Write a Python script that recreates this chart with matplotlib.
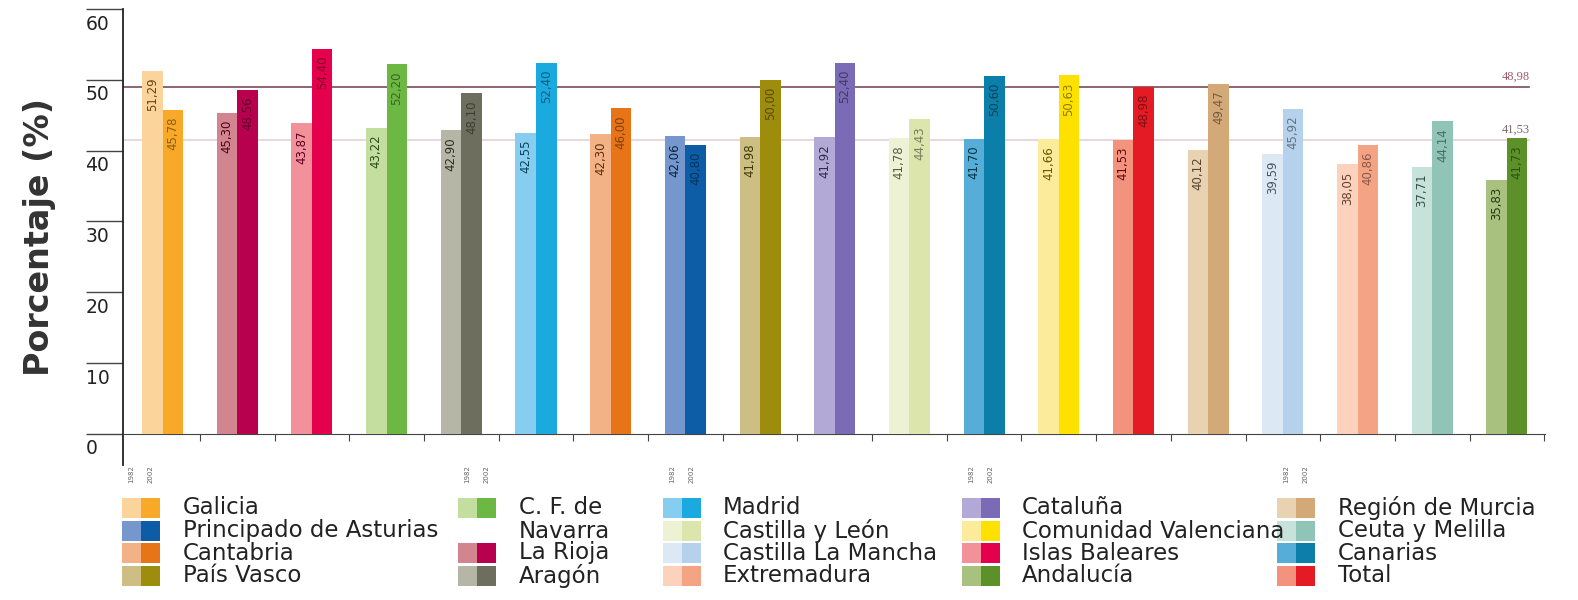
import numpy as np
import matplotlib
matplotlib.use('Agg')
import matplotlib.pyplot as plt
from matplotlib.patches import Rectangle
from matplotlib.colors import to_rgb
from matplotlib.transforms import ScaledTranslation

# datos (orden de las barras en el grafico)
regiones = ['Galicia', 'La Rioja', 'Islas Baleares', 'C. F. de Navarra', 'Aragón',
            'Madrid', 'Cantabria', 'Principado de Asturias', 'País Vasco', 'Cataluña',
            'Castilla y León', 'Canarias', 'Comunidad Valenciana', 'Total',
            'Región de Murcia', 'Castilla La Mancha', 'Extremadura', 'Ceuta y Melilla',
            'Andalucía']
v1982 = [51.29, 45.30, 43.87, 43.22, 42.90, 42.55, 42.30, 42.06, 41.98, 41.92,
         41.78, 41.70, 41.66, 41.53, 40.12, 39.59, 38.05, 37.71, 35.83]
v2002 = [45.78, 48.56, 54.40, 52.20, 48.10, 52.40, 46.00, 40.80, 50.00, 52.40,
         44.43, 50.60, 50.63, 48.98, 49.47, 45.92, 40.86, 44.14, 41.73]
anios = ['1982', '2002']

# colores (claro = 1982, oscuro = 2002)
colores = {
    'Galicia': ('#FBD49C', '#F8A928'),
    'La Rioja': ('#D3858F', '#B7004E'),
    'Islas Baleares': ('#F2919A', '#E4004C'),
    'C. F. de Navarra': ('#C4DEA0', '#6DB843'),
    'Aragón': ('#B6B6A7', '#6E6E5E'),
    'Madrid': ('#86CDF0', '#1AAAE0'),
    'Cantabria': ('#F3B286', '#E87418'),
    'Principado de Asturias': ('#7597CD', '#0C5DA6'),
    'País Vasco': ('#CDBE83', '#9E8C0D'),
    'Cataluña': ('#B3A9D6', '#7B6AB6'),
    'Castilla y León': ('#EDF2D4', '#DCE5AC'),
    'Canarias': ('#56AED8', '#0B7EA9'),
    'Comunidad Valenciana': ('#FBEB9B', '#FFE100'),
    'Total': ('#F4937D', '#E41B25'),
    'Región de Murcia': ('#E8D2B2', '#D3A978'),
    'Castilla La Mancha': ('#DCE8F3', '#B5D1EC'),
    'Extremadura': ('#FCD2BC', '#F5A385'),
    'Ceuta y Melilla': ('#C6E2DA', '#8FC4B6'),
    'Andalucía': ('#A9C17F', '#5B9128'),
}

# columnas de la leyenda
leyenda = [
    ['Galicia', 'Principado de Asturias', 'Cantabria', 'País Vasco'],
    ['C. F. de Navarra', None, 'La Rioja', 'Aragón'],
    ['Madrid', 'Castilla y León', 'Castilla La Mancha', 'Extremadura'],
    ['Cataluña', 'Comunidad Valenciana', 'Islas Baleares', 'Andalucía'],
    ['Región de Murcia', 'Ceuta y Melilla', 'Canarias', 'Total'],
]

W, H = 1578, 600
fig = plt.figure(figsize=(W / 100, H / 100), dpi=100)
ax = fig.add_axes([123 / W, 1 - 465 / H, (1545 - 123) / W, (465 - 9) / H])

x = np.arange(len(regiones))
w = 0.275
claro = [colores[r][0] for r in regiones]
oscuro = [colores[r][1] for r in regiones]
b1 = ax.bar(x - w / 2, v1982, w, color=claro, zorder=3)
b2 = ax.bar(x + w / 2, v2002, w, color=oscuro, zorder=3)


def oscurecer(c, f):
    r, g, b = to_rgb(c)
    return (r * f, g * f, b * f)


for bars, vals, cols, f in [(b1, v1982, oscuro, 0.4), (b2, v2002, oscuro, 0.55)]:
    for bar, v, c in zip(bars, vals, cols):
        ax.annotate(f'{v:.2f}'.replace('.', ','),
                    (bar.get_x() + bar.get_width() / 2, v),
                    xytext=(0, -5), textcoords='offset points',
                    rotation=90, ha='center', va='top', fontsize=8.5,
                    color=oscurecer(c, f), zorder=4)

# lineas de la media total
i_total = regiones.index('Total')
ax.axhline(v2002[i_total], xmin=0, xmax=0.989, color='#7a4a55', lw=1.2, zorder=2)
ax.axhline(v1982[i_total], xmin=0, xmax=0.989, color='#e6d2d6', lw=1.2, zorder=2)
ax.annotate(f'{v2002[i_total]:.2f}'.replace('.', ','), (18.31, v2002[i_total]),
            xytext=(0, 3), textcoords='offset points', ha='right', va='bottom',
            fontsize=9, family='Liberation Serif', color='#a0596a')
ax.annotate(f'{v1982[i_total]:.2f}'.replace('.', ','), (18.31, v1982[i_total]),
            xytext=(0, 3), textcoords='offset points', ha='right', va='bottom',
            fontsize=9, family='Liberation Serif', color='#7a6a6a')

ax.set_xlim(-0.53, 18.51)
ax.set_ylim(-4.4, 60)
ax.spines['top'].set_visible(False)
ax.spines['right'].set_visible(False)
ax.spines['bottom'].set_position(('data', 0))
ax.spines['bottom'].set_color('#444444')
ax.spines['left'].set_color('#222222')
ax.spines['left'].set_linewidth(1.3)

ax.set_xticks(np.arange(0.5, 18.6, 1))
ax.tick_params(axis='x', length=5, color='#444444', labelbottom=False)
ax.set_yticks(range(0, 61, 10))
ax.tick_params(axis='y', length=27, width=1, color='#444444', pad=0, labelsize=13.5,
               labelcolor='#222222')
baja = ScaledTranslation(0, -4 / 72, fig.dpi_scale_trans)
for t in ax.yaxis.get_major_ticks():
    t.label1.set_ha('left')
    t.label1.set_va('top')
    t.label1.set_transform(t.label1.get_transform() + baja)

ax.set_ylabel('Porcentaje (%)', fontsize=24, fontweight='bold', color='#333333')
ax.yaxis.set_label_coords(-0.047, 0.5)

# leyenda
cols_x = [(122, 183), (458, 519), (663, 723), (962, 1022), (1277, 1338)]
filas_y = [508, 531, 553, 576]
fs_ley = 16.5
for (sx, tx), col in zip(cols_x, leyenda):
    for yy, nombre in zip(filas_y, col):
        if nombre is None:
            continue
        c1, c2 = colores[nombre]
        fig.add_artist(Rectangle((sx / W, 1 - (yy + 10) / H), 19 / W, 20 / H,
                                 transform=fig.transFigure, color=c1, lw=0))
        fig.add_artist(Rectangle(((sx + 19) / W, 1 - (yy + 10) / H), 19 / W, 20 / H,
                                 transform=fig.transFigure, color=c2, lw=0))
        if nombre == 'C. F. de Navarra':
            fig.text(tx / W, 1 - yy / H, 'C. F. de', fontsize=fs_ley, va='center',
                     ha='left', color='#222222')
            fig.text(tx / W, 1 - (yy + 23) / H, 'Navarra', fontsize=fs_ley, va='center',
                     ha='left', color='#222222')
        else:
            fig.text(tx / W, 1 - yy / H, nombre, fontsize=fs_ley, va='center',
                     ha='left', color='#222222')
    for k, a in enumerate(anios):
        fig.text((sx + 9.5 + 19 * k) / W, 1 - 483 / H, a, rotation=90, fontsize=5,
                 ha='center', va='bottom', color='#666666')

fig.savefig('out.png', dpi=100)
